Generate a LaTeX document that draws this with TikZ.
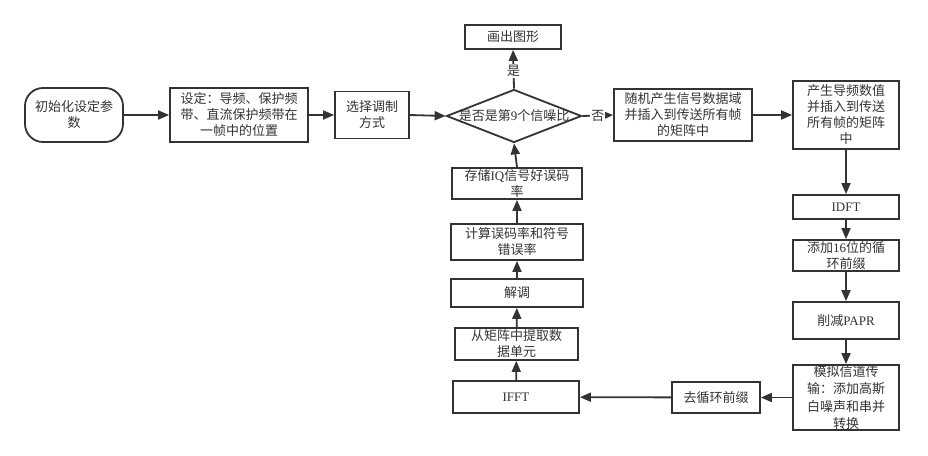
\documentclass[tikz,border=0pt]{standalone}
\usepackage{fontspec}
\setmainfont{Noto Sans CJK SC}
\newfontfamily\latf{Liberation Serif}
\usetikzlibrary{arrows.meta,shapes.geometric}
\definecolor{ln}{HTML}{333333}
\begin{document}
\begin{tikzpicture}[x=1pt,y=-1pt,
  box/.style={draw=ln,line width=1.8pt,fill=white,text=ln,align=center,inner sep=0pt,font=\fontsize{13pt}{16pt}\selectfont},
  arr/.style={draw=ln,line width=1.8pt,-{Triangle[length=11pt,width=9pt]}},
  lbl/.style={fill=white,text=ln,inner sep=1pt,font=\fontsize{13pt}{16pt}\selectfont}]
\useasboundingbox (0,0) rectangle (928,455);
\node[box,minimum width=98pt,minimum height=54pt,rounded corners=18pt] (init) at (74,115) {初始化设定参\\数};
\node[box,minimum width=138pt,minimum height=54pt] (set) at (239,115) {设定：导频、保护频\\带、直流保护频带在\\一帧中的位置};
\node[box,minimum width=74pt,minimum height=47pt] (sel) at (372,115) {选择调制\\方式};
\node[draw=ln,line width=1.8pt,fill=white,shape=diamond,inner sep=0pt,minimum width=135pt,minimum height=53pt,
  label={[text=ln,font=\fontsize{13pt}{16pt}\selectfont]center:是否是第{\latf 9}个信噪比}] (dia) at (514,116) {};
\node[box,minimum width=96pt,minimum height=24pt] (draw) at (513,37) {画出图形};
\node[box,minimum width=138pt,minimum height=52pt] (rand) at (683,115) {随机产生信号数据域\\并插入到传送所有帧\\的矩阵中};
\node[box,minimum width=106pt,minimum height=68pt] (pilot) at (846,115) {产生导频数值\\并插入到传送\\所有帧的矩阵\\中};
\node[box,minimum width=106pt,minimum height=24pt] (idft) at (846,207) {\latf IDFT};
\node[box,minimum width=106pt,minimum height=31pt] (cp) at (846,255.5) {添加{\latf 16}位的循\\环前缀};
\node[box,minimum width=106pt,minimum height=37pt] (papr) at (846,320.5) {削减{\latf PAPR}};
\node[box,minimum width=106pt,minimum height=65pt,font=\fontsize{13pt}{17.5pt}\selectfont] (chan) at (846,397.5) {模拟信道传\\输：添加高斯\\白噪声和串并\\转换};
\node[box,minimum width=88pt,minimum height=31pt] (rcp) at (716,397.5) {去循环前缀};
\node[box,minimum width=126pt,minimum height=32pt] (ifft) at (516,397) {\latf IFFT};
\node[box,minimum width=123pt,minimum height=32pt] (ext) at (516.5,344) {从矩阵中提取数\\据单元};
\node[box,minimum width=132pt,minimum height=28pt] (demod) at (517,293) {解调};
\node[box,minimum width=132pt,minimum height=36pt] (ber) at (517,242) {计算误码率和符号\\错误率};
\node[box,minimum width=130pt,minimum height=31pt] (store) at (517,183.5) {存储{\latf IQ}信号好误码\\率};
\draw[arr] (init) -- (set);
\draw[arr] (set) -- (sel);
\draw[arr] (sel.east) -- (dia.west);
\draw[arr] (dia.north) -- node[lbl,pos=0.45] {是} (draw.south);
\draw[arr] (dia.east) -- node[lbl] {否} (rand.west);
\draw[arr] (rand) -- (pilot);
\draw[arr] (pilot) -- (idft);
\draw[arr] (idft) -- (cp);
\draw[arr] (cp) -- (papr);
\draw[arr] (papr) -- (chan);
\draw[arr] (chan) -- (rcp);
\draw[arr] (rcp) -- (ifft);
\draw[arr] (ifft) -- (ext);
\draw[arr] (ext) -- (demod);
\draw[arr] (demod) -- (ber);
\draw[arr] (ber) -- (store);
\draw[arr] (store.north) -- (dia.south);
\end{tikzpicture}
\end{document}
